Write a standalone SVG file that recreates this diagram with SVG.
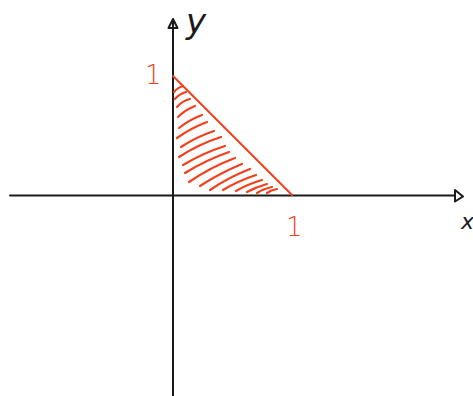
<svg xmlns="http://www.w3.org/2000/svg" width="473" height="396" viewBox="0 0 473 396">
<style>
.ax{stroke:#1a1a1a;stroke-width:2;fill:none;stroke-linecap:round;stroke-linejoin:round}
.rd{stroke:#f2401c;stroke-width:2;fill:none;stroke-linecap:round;stroke-linejoin:round}
.hatch{stroke:#f2401c;stroke-width:2.2;fill:none;stroke-linecap:round}
.lblk{font-family:"DejaVu Sans",sans-serif;font-style:italic;fill:#1a1a1a}
.lred{font-family:"DejaVu Sans",sans-serif;fill:#f2401c;font-weight:300}
</style>
<rect width="473" height="396" fill="#ffffff"/>
<g id="axes">
<path class="ax" d="M10,195.5 L455,195.5"/>
<path class="ax" d="M455,190 L463,196.5 L455,201.5 Z"/>
<path class="ax" d="M173,396 L173,20"/>
<path class="ax" d="M168.5,28 L173,19 L177.5,28 Z"/>
</g>
<g id="region">
<path class="rd" d="M173,76 L292,195"/>
<g class="hatch">
<path d="M174,92 Q177,88 183,86"/>
<path d="M175,99 Q179,94 186,92"/>
<path d="M177,107 Q182,101 190,99"/>
<path d="M178,117 Q185,110 195,106"/>
<path d="M179,128 Q189,120 202,115"/>
<path d="M177,138 Q191,128 207,122"/>
<path d="M181,147 Q196,137 214,131"/>
<path d="M179,157 Q199,144 221,137"/>
<path d="M183,165 Q203,153 225,146"/>
<path d="M185,173 Q206,160 229,152"/>
<path d="M189,182 Q211,167 235,158"/>
<path d="M200,186 Q220,173 242,164"/>
<path d="M210,190 Q229,177 250,169"/>
<path d="M223,190 Q238,181 256,175"/>
<path d="M236,191 Q248,184 262,180"/>
<path d="M247,192 Q256,187 267,184"/>
<path d="M257,193 Q263,189 272,187"/>
<path d="M267,193 Q271,190 277,189"/>
</g>
</g>
<g id="labels">
<text class="lred" x="145" y="84" font-size="26">1</text>
<text class="lred" x="286" y="236" font-size="26">1</text>
<text class="lblk" x="186" y="33" font-size="34">y</text>
<text class="lblk" x="461" y="229" font-size="22">x</text>
</g>
</svg>
